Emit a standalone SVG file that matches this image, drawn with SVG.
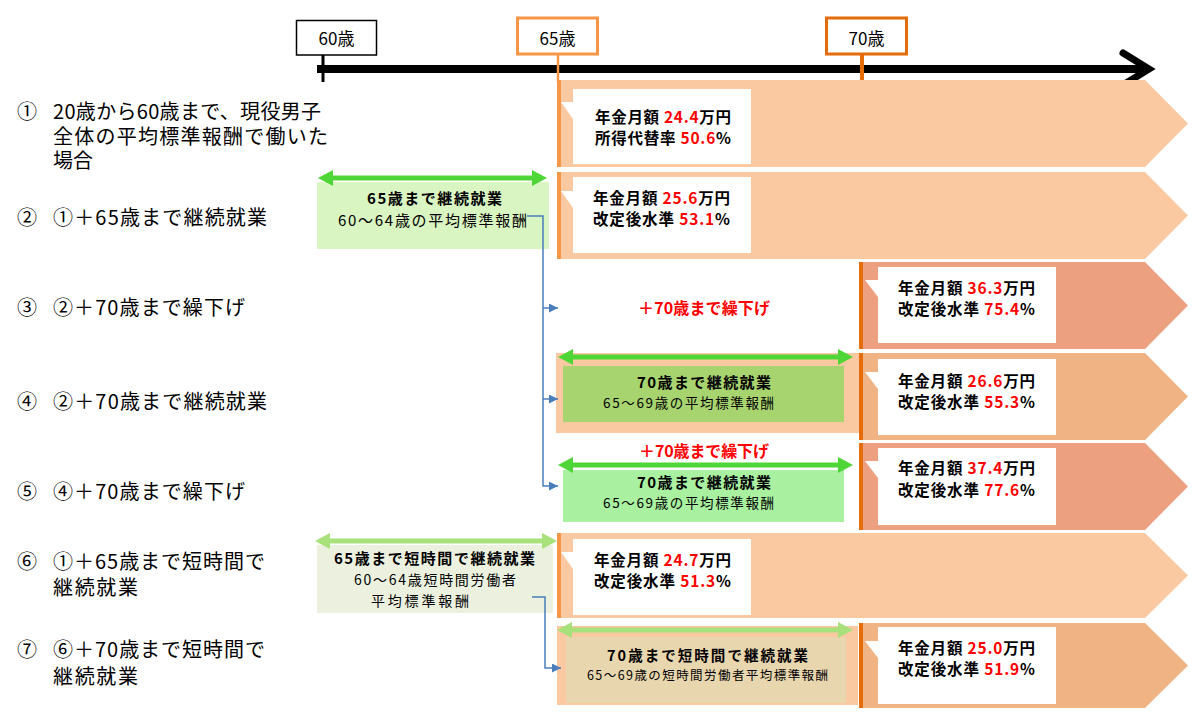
<svg xmlns="http://www.w3.org/2000/svg" width="1200" height="728" viewBox="0 0 1200 728">
<style>
text{font-family:"Noto Sans CJK JP","Noto Sans",sans-serif;fill:#000}
.lbl{font-size:20px}
.ax{font-size:17px}
.co{font-size:15.5px;font-weight:bold}
.r{fill:#FF0000}
.bt{font-size:15px;font-weight:bold}
.bs{font-size:15px}
.red{font-size:16px;font-weight:bold;fill:#FF0000}
.peach{fill:#FAC9A1}
.salmon{fill:#EDA080}
.tan{fill:#F0B383}
.bar1{fill:#F79646}
.bar2{fill:#E46C0A}
.call{fill:#FFFFFF}
.gA{fill:#4ED636}
.gB{fill:#A8E07C}
.blue{fill:none;stroke:#4A7EBB;stroke-width:1.5}
</style>
<defs>
<marker id="ba" viewBox="0 0 10 10" refX="10" refY="5" markerWidth="9" markerHeight="9" markerUnits="userSpaceOnUse" orient="auto"><path d="M0,0 L10,5 L0,10 Z" fill="#4A7EBB"/></marker>
</defs>
<rect width="1200" height="728" fill="#FFFFFF"/>

<g id="axis">
<line x1="317" y1="69" x2="1146" y2="69" stroke="#000" stroke-width="8"/>
<polyline points="1123,53 1149,69 1123,85" fill="none" stroke="#000" stroke-width="7" stroke-linecap="round" stroke-linejoin="miter"/>
<line x1="323" y1="55" x2="323" y2="82" stroke="#000" stroke-width="3"/>
<line x1="558" y1="54" x2="558" y2="82" stroke="#F79646" stroke-width="2.5"/>
<line x1="862" y1="54" x2="862" y2="84" stroke="#E46C0A" stroke-width="4"/>
<rect x="296.5" y="20.5" width="80" height="34.5" fill="#FFF" stroke="#000" stroke-width="1.5"/>
<text class="ax" x="336.5" y="45" text-anchor="middle">60歳</text>
<rect x="517.5" y="18" width="80" height="36" fill="#FFF" stroke="#F79646" stroke-width="3"/>
<text class="ax" x="557.5" y="45" text-anchor="middle">65歳</text>
<rect x="826.5" y="18" width="80" height="36" fill="#FFF" stroke="#E46C0A" stroke-width="3"/>
<text class="ax" x="866.5" y="45" text-anchor="middle">70歳</text>
</g>

<g id="labels">
<text class="lbl" x="17" y="119">①</text><text class="lbl" x="53" y="119" textLength="268">20歳から60歳まで、現役男子</text>
<text class="lbl" x="53" y="144" textLength="275">全体の平均標準報酬で働いた</text>
<text class="lbl" x="53" y="168" textLength="40">場合</text>
<text class="lbl" x="17" y="225">②</text><text class="lbl" x="53" y="225" textLength="214">①＋65歳まで継続就業</text>
<text class="lbl" x="17" y="315">③</text><text class="lbl" x="53" y="315" textLength="192">②＋70歳まで繰下げ</text>
<text class="lbl" x="17" y="409">④</text><text class="lbl" x="53" y="409" textLength="214">②＋70歳まで継続就業</text>
<text class="lbl" x="17" y="499">⑤</text><text class="lbl" x="53" y="499" textLength="192">④＋70歳まで繰下げ</text>
<text class="lbl" x="17" y="569">⑥</text><text class="lbl" x="53" y="569" textLength="212">①＋65歳まで短時間で</text>
<text class="lbl" x="53" y="595" textLength="85">継続就業</text>
<text class="lbl" x="17" y="657">⑦</text><text class="lbl" x="53" y="657" textLength="212">⑥＋70歳まで短時間で</text>
<text class="lbl" x="53" y="684" textLength="85">継続就業</text>
</g>

<g id="row1">
<polygon class="peach" points="557,80 1145,80 1188,123.5 1145,167 557,167"/>
<rect class="bar1" x="557" y="80" width="4" height="87"/>
<path class="call" d="M573,89 H751 V164 H573 V119 L561,102 H573 Z"/>
<text class="co" x="595" y="123" textLength="136">年金月額 <tspan class="r">24.4</tspan>万円</text>
<text class="co" x="595" y="144" textLength="136">所得代替率 <tspan class="r">50.6</tspan>%</text>
</g>

<g id="row2">
<polygon class="peach" points="557,172 1145,172 1188,215.5 1145,259 557,259"/>
<rect class="bar1" x="557" y="172" width="4" height="87"/>
<path class="call" d="M573,177 H751 V253 H573 V208 L561,191 H573 Z"/>
<text class="co" x="593" y="204" textLength="137">年金月額 <tspan class="r">25.6</tspan>万円</text>
<text class="co" x="593" y="225" textLength="137">改定後水準 <tspan class="r">53.1</tspan>%</text>
<rect x="317" y="182" width="232" height="67" fill="#D9F5C2"/>
<polygon class="gA" points="318,178 333,170 333,175.5 532,175.5 532,170 547,178 532,186 532,180.5 333,180.5 333,186"/>
<text class="bt" x="367" y="204" textLength="135">65歳まで継続就業</text>
<text class="bs" x="338" y="226" textLength="189">60～64歳の平均標準報酬</text>
</g>

<g id="row3">
<polygon class="salmon" points="860,262 1145,262 1188,305.5 1145,349 860,349"/>
<rect class="bar2" x="859" y="262" width="4" height="87"/>
<path class="call" d="M878,267 H1056 V343 H878 V297 L865,280 H878 Z"/>
<text class="co" x="898" y="294" textLength="137">年金月額 <tspan class="r">36.3</tspan>万円</text>
<text class="co" x="898" y="315" textLength="137">改定後水準 <tspan class="r">75.4</tspan>%</text>
<text class="red" x="638" y="314" textLength="132">＋70歳まで繰下げ</text>
</g>

<g id="row4">
<rect class="peach" x="556" y="353" width="303" height="80"/>
<polygon class="tan" points="860,353 1145,353 1188,396.5 1145,440 860,440"/>
<rect class="bar2" x="859" y="353" width="4" height="87"/>
<path class="call" d="M878,359 H1056 V435 H878 V389 L865,372 H878 Z"/>
<text class="co" x="898" y="387" textLength="137">年金月額 <tspan class="r">26.6</tspan>万円</text>
<text class="co" x="898" y="408" textLength="137">改定後水準 <tspan class="r">55.3</tspan>%</text>
<rect x="563" y="366" width="281" height="56" fill="#A8D46F"/>
<polygon class="gA" points="558,357 573,349 573,354.5 838,354.5 838,349 853,357 838,365 838,359.5 573,359.5 573,365"/>
<text class="bt" x="637" y="388" textLength="134">70歳まで継続就業</text>
<text class="bs" x="603" y="408" textLength="171" style="font-size:13.5px">65～69歳の平均標準報酬</text>
</g>

<g id="row5">
<polygon class="salmon" points="860,443 1145,443 1188,486.5 1145,530 860,530"/>
<rect class="bar2" x="859" y="443" width="4" height="87"/>
<path class="call" d="M878,448 H1056 V525 H878 V478 L865,461 H878 Z"/>
<text class="co" x="898" y="474" textLength="137">年金月額 <tspan class="r">37.4</tspan>万円</text>
<text class="co" x="898" y="496" textLength="137">改定後水準 <tspan class="r">77.6</tspan>%</text>
<text class="red" x="639" y="457" textLength="130">＋70歳まで繰下げ</text>
<rect x="563" y="470" width="281" height="52" fill="#A9F0A0"/>
<polygon class="gA" points="558,465 573,457 573,462.5 838,462.5 838,457 853,465 838,473 838,467.5 573,467.5 573,473"/>
<text class="bt" x="637" y="488" textLength="134">70歳まで継続就業</text>
<text class="bs" x="603" y="508" textLength="171" style="font-size:13.5px">65～69歳の平均標準報酬</text>
</g>

<g id="row6">
<polygon class="peach" points="557,533 1145,533 1188,575.5 1145,618 557,618"/>
<rect class="bar1" x="557" y="533" width="4" height="85"/>
<path class="call" d="M573,539 H751 V615 H573 V569 L561,552 H573 Z"/>
<text class="co" x="594" y="566" textLength="137">年金月額 <tspan class="r">24.7</tspan>万円</text>
<text class="co" x="594" y="587" textLength="137">改定後水準 <tspan class="r">51.3</tspan>%</text>
<rect x="317" y="545" width="236" height="68" fill="#EBF1DE"/>
<polygon class="gB" points="315,541 330,533 330,538.5 542,538.5 542,533 557,541 542,549 542,543.5 330,543.5 330,549"/>
<text class="bt" x="334" y="564" textLength="201">65歳まで短時間で継続就業</text>
<text class="bs" x="354" y="585" textLength="162" style="font-size:14px">60～64歳短時間労働者</text>
<text class="bs" x="371" y="606" textLength="98" style="font-size:14px">平均標準報酬</text>
</g>

<g id="row7">
<rect class="peach" x="557" y="626" width="301" height="79"/>
<polygon class="tan" points="860,623 1145,623 1188,665.5 1145,708 860,708"/>
<rect class="bar2" x="859" y="623" width="4" height="85"/>
<path class="call" d="M878,627 H1056 V704 H878 V658 L865,641 H878 Z"/>
<text class="co" x="898" y="654" textLength="137">年金月額 <tspan class="r">25.0</tspan>万円</text>
<text class="co" x="898" y="675" textLength="137">改定後水準 <tspan class="r">51.9</tspan>%</text>
<rect x="566" y="637" width="280" height="66" fill="#E8D6AE"/>
<polygon class="gB" points="557,630 572,622 572,627.5 838,627.5 838,622 853,630 838,638 838,632.5 572,632.5 572,638"/>
<text class="bt" x="607" y="661" textLength="201" style="font-size:14.5px">70歳まで短時間で継続就業</text>
<text class="bs" x="587" y="680" textLength="241" style="font-size:12.5px">65～69歳の短時間労働者平均標準報酬</text>
</g>

<g id="connectors">
<polyline class="blue" points="527,216 543,216 543,486 558,486" marker-end="url(#ba)"/>
<line class="blue" x1="543" y1="308" x2="558" y2="308" marker-end="url(#ba)"/>
<line class="blue" x1="543" y1="399" x2="558" y2="399" marker-end="url(#ba)"/>
<polyline class="blue" points="532,597 545,597 545,668 561,668" marker-end="url(#ba)"/>
</g>
</svg>
